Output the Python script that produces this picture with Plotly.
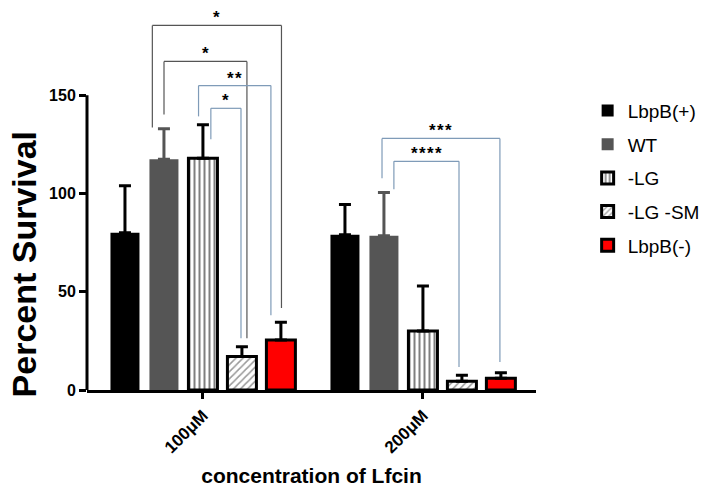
import plotly.graph_objects as go

groups = ["100μM", "200μM"]
strains = ["LbpB(+)", "WT", "-LG", "-LG -SM", "LbpB(-)"]
means = {
    "LbpB(+)": [80, 79],
    "WT": [117.5, 78.5],
    "-LG": [118, 30],
    "-LG -SM": [17, 4.5],
    "LbpB(-)": [25.5, 6],
}
errs = {
    "LbpB(+)": [24, 15.5],
    "WT": [15.5, 22],
    "-LG": [17, 23],
    "-LG -SM": [5, 3],
    "LbpB(-)": [9, 2.8],
}

HS = "\u200a"
# significance brackets: (x_left, x_right, y_top, y_left_end, y_right_end, label, colour)
brackets = [
    (-0.23, 0.357, 185.6, 133.7, 41.7, "*", "#555555"),
    (-0.177, 0.20, 167.3, 140.3, 26.4, "*", "#555555"),
    (-0.02, 0.309, 155.0, 139.3, 38.1, HS.join("**"), "#7f9bb8"),
    (0.036, 0.173, 143.4, 127.6, 26.4, "*", "#7f9bb8"),
    (1 - 0.186, 1 + 0.35, 128.1, 107.8, 14.2, HS.join("***"), "#7f9bb8"),
    (1 - 0.132, 1 + 0.164, 116.4, 102.2, 11.7, HS.join("****"), "#7f9bb8"),
]

styles = {
    "LbpB(+)": dict(color="black", line=dict(color="black", width=0)),
    "WT": dict(color="#555555", line=dict(color="#555555", width=0)),
    "-LG": dict(color="white", line=dict(color="black", width=3),
                pattern=dict(shape="|", fgcolor="black", bgcolor="white", size=5, solidity=0.4)),
    "-LG -SM": dict(color="white", line=dict(color="black", width=3),
                    pattern=dict(shape="/", fgcolor="#333333", bgcolor="white", size=5, solidity=0.3)),
    "LbpB(-)": dict(color="#ff0000", line=dict(color="black", width=3)),
}
err_colors = {"LbpB(+)": "black", "WT": "#555555", "-LG": "black", "-LG -SM": "black", "LbpB(-)": "black"}

fig = go.Figure()
for i, s in enumerate(strains):
    fig.add_trace(go.Bar(
        x=groups, y=means[s], name=s, legendgroup=s,
        marker=styles[s],
        error_y=dict(type="data", array=errs[s], arrayminus=[0] * len(groups), symmetric=False,
                     color=err_colors[s], thickness=3, width=6),
    ))

font = "Arial, Liberation Sans, sans-serif"

for (xl, xr, yt, yl, yr, lab, col) in brackets:
    fig.add_shape(type="line", xref="x", yref="y", x0=xl, x1=xl, y0=yl, y1=yt, line=dict(color=col, width=1.2))
    fig.add_shape(type="line", xref="x", yref="y", x0=xl, x1=xr, y0=yt, y1=yt, line=dict(color=col, width=1.2))
    fig.add_shape(type="line", xref="x", yref="y", x0=xr, x1=xr, y0=yt, y1=yr, line=dict(color=col, width=1.2))
    fig.add_annotation(x=(xl + xr) / 2, y=yt, yref="y", xref="x", text="<b>" + lab + "</b>",
                       showarrow=False, yanchor="bottom", yshift=-4,
                       font=dict(family=font, size=17, color="black"))

# y axis line from 0 to 150
fig.add_shape(type="line", xref="paper", yref="y", x0=0, x1=0, y0=0, y1=150,
              line=dict(color="black", width=3))

# y axis title (placed as in the reference, slightly below centre)
fig.add_annotation(text="<b>Percent Survival</b>", textangle=-90, xref="paper", yref="y",
                   x=-0.14, y=64, xanchor="center", yanchor="middle", showarrow=False,
                   font=dict(family=font, size=34, color="black"))

fig.update_layout(
    width=718, height=487,
    margin=dict(l=87, r=182, t=5, b=97),
    paper_bgcolor="white", plot_bgcolor="white",
    barmode="group", bargap=0.114, bargroupgap=0.256,
    font=dict(family=font, color="black"),
    showlegend=True,
    legend=dict(x=1.115, y=0.775, xanchor="left", yanchor="top",
                font=dict(family=font, size=19, color="black"),
                tracegroupgap=6, bgcolor="rgba(0,0,0,0)"),
    xaxis=dict(range=[-0.527, 1.514], showline=True, linecolor="black", linewidth=3,
               ticks="outside", ticklen=6, tickwidth=2.5, tickcolor="black",
               tickangle=-45, tickfont=dict(family=font, size=17, color="black"),
               title=dict(text="<b>concentration of Lfcin</b>", font=dict(family=font, size=21), standoff=24),
               showgrid=False, zeroline=False, automargin=False),
    yaxis=dict(range=[0, 196], tickvals=[0, 50, 100, 150], ticktext=["<b>0</b>", "<b>50</b>", "<b>100</b>", "<b>150</b>"],
               showline=False, ticks="outside", ticklen=7, tickwidth=2.5, tickcolor="black",
               tickfont=dict(family=font, size=16, color="black"),
               showgrid=False, zeroline=False, automargin=False),
)
fig.update_xaxes(tickprefix="<b>", ticksuffix="</b>")

fig.write_html("out.html", config={"displayModeBar": False},
               post_script="document.body.style.margin='0';")
